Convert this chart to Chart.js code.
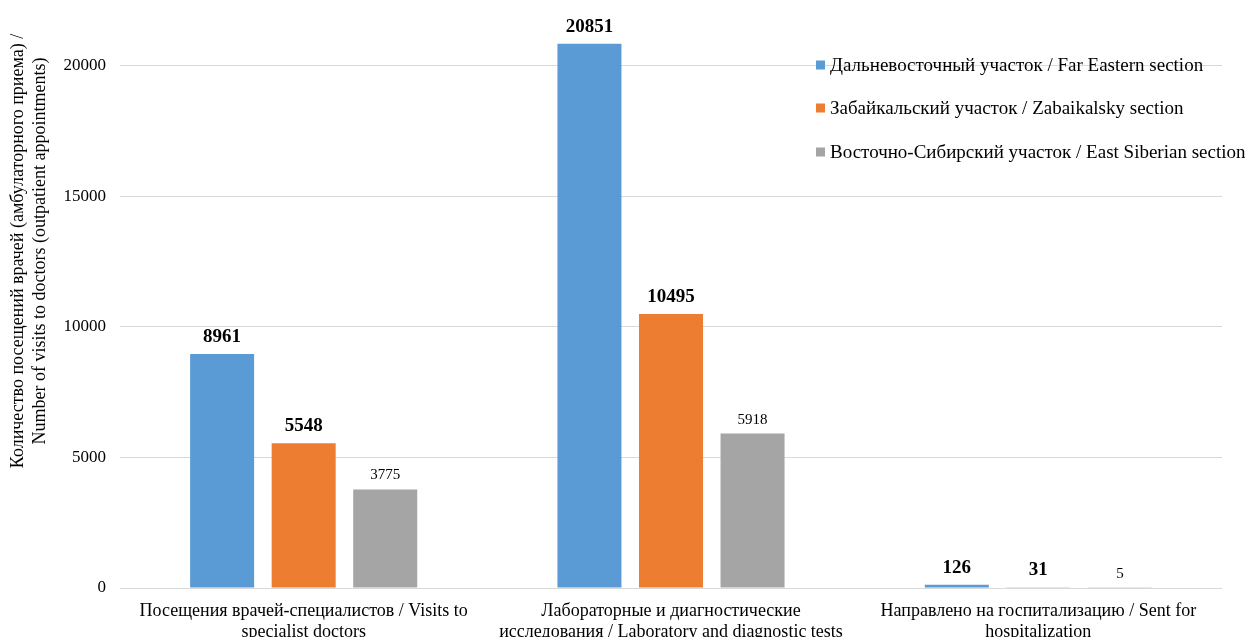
<!DOCTYPE html>
<html>
<head>
<meta charset="utf-8">
<script src="https://cdn.jsdelivr.net/npm/chart.js@4.4.1/dist/chart.umd.min.js"></script>
<style>
  html, body { margin: 0; padding: 0; background: #ffffff; }
  #wrap { position: relative; width: 1245px; height: 637px; }
</style>
</head>
<body>
<div id="wrap"><canvas id="chart" width="1245" height="637"></canvas></div>
<script>
// Categories (wrapped onto two lines each)
const categories = [
  ['Посещения врачей-специалистов / Visits to', 'specialist doctors'],
  ['Лабораторные и диагностические', 'исследования / Laboratory and diagnostic tests'],
  ['Направлено на госпитализацию / Sent for', 'hospitalization']
];

// Series
const seriesNames = [
  'Дальневосточный участок / Far Eastern section',
  'Забайкальский участок / Zabaikalsky section',
  'Восточно-Сибирский участок / East Siberian section'
];
const farEastern = [8961, 20851, 126];
const zabaikalsky = [5548, 10495, 31];
const eastSiberian = [3775, 5918, 5];

// Y axis
const yTicks = [0, 5000, 10000, 15000, 20000];
const yTitle = [
  'Количество посещений врачей (амбулаторного приема) /',
  'Number of visits to doctors (outpatient appointments)'
];

const colors = ['#5B9BD5', '#ED7D31', '#A5A5A5'];
const FONT = "'Liberation Serif', 'Times New Roman', serif";

// Value labels above each bar
const valueLabels = {
  id: 'valueLabels',
  afterDatasetsDraw(chart) {
    const ctx = chart.ctx;
    ctx.save();
    ctx.fillStyle = '#000';
    ctx.textAlign = 'center';
    ctx.textBaseline = 'alphabetic';
    chart.data.datasets.forEach((ds, di) => {
      const meta = chart.getDatasetMeta(di);
      const bold = di < 2;
      ctx.font = (bold ? 'bold 19px ' : '15px ') + FONT;
      meta.data.forEach((bar, i) => {
        ctx.fillText(String(ds.data[i]), bar.x, bar.y - (bold ? 12 : 10));
      });
    });
    ctx.restore();
  }
};

// Legend drawn over the plot, upper right
const overlayLegend = {
  id: 'overlayLegend',
  afterDraw(chart) {
    const ctx = chart.ctx;
    ctx.save();
    ctx.font = '19px ' + FONT;
    ctx.textBaseline = 'middle';
    ctx.textAlign = 'left';
    const x0 = 816, ys = [65, 108, 152];
    chart.data.datasets.forEach((ds, i) => {
      ctx.fillStyle = ds.backgroundColor;
      ctx.fillRect(x0, ys[i] - 4.5, 9, 9);
      ctx.fillStyle = '#000';
      ctx.fillText(ds.label, x0 + 14, ys[i] + 1);
    });
    ctx.restore();
  }
};

// Rotated two-line y-axis title
const axisTitle = {
  id: 'axisTitle',
  afterDraw(chart) {
    const ctx = chart.ctx;
    ctx.save();
    ctx.font = '18px ' + FONT;
    ctx.fillStyle = '#000';
    ctx.textAlign = 'center';
    ctx.textBaseline = 'middle';
    ctx.translate(29, 251);
    ctx.rotate(-Math.PI / 2);
    ctx.fillText(yTitle[0], 0, -11);
    ctx.fillText(yTitle[1], 0, 11);
    ctx.restore();
  }
};

new Chart(document.getElementById('chart'), {
  type: 'bar',
  data: {
    labels: categories,
    datasets: [
      { label: seriesNames[0], data: farEastern, backgroundColor: colors[0] },
      { label: seriesNames[1], data: zabaikalsky, backgroundColor: colors[1] },
      { label: seriesNames[2], data: eastSiberian, backgroundColor: colors[2] }
    ]
  },
  options: {
    responsive: false,
    animation: false,
    layout: { padding: { left: 0, right: 23, top: 0, bottom: 0 } },
    datasets: { bar: { categoryPercentage: 0.666, barPercentage: 0.785 } },
    plugins: {
      legend: { display: false },
      tooltip: { enabled: false }
    },
    scales: {
      x: {
        grid: { display: false, drawTicks: false },
        border: { display: false },
        ticks: {
          color: '#000',
          font: { family: FONT, size: 18, lineHeight: 1.17 },
          maxRotation: 0,
          autoSkip: false,
          padding: 13
        },
        afterFit(s) { s.height = 49; }
      },
      y: {
        min: 0,
        max: 21600,
        afterBuildTicks(s) { s.ticks = yTicks.map(v => ({ value: v })); },
        grid: { color: '#d9d9d9', drawTicks: false, lineWidth: 1 },
        border: { display: false },
        ticks: {
          color: '#000',
          font: { family: FONT, size: 17 },
          padding: 14,
          callback: (v) => String(v)
        },
        afterFit(s) { s.width = 120; }
      }
    }
  },
  plugins: [valueLabels, overlayLegend, axisTitle]
});
</script>
</body>
</html>
